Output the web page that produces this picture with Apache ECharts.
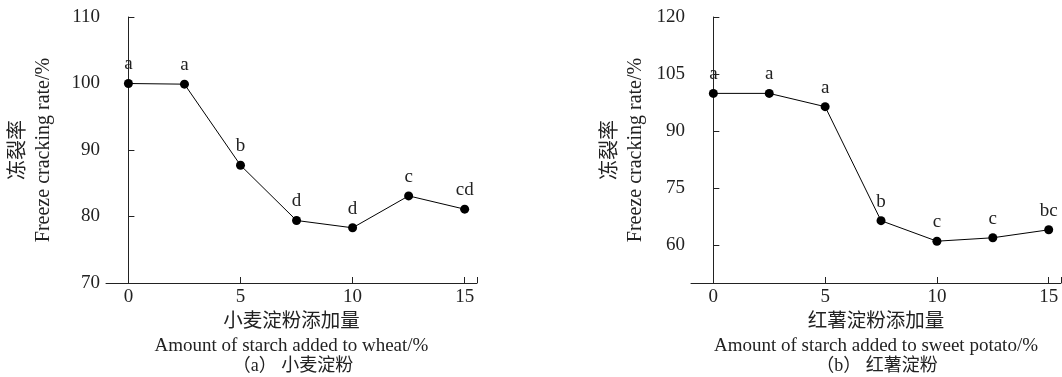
<!DOCTYPE html>
<html>
<head>
<meta charset="utf-8">
<script src="https://cdn.jsdelivr.net/npm/echarts@6/dist/echarts.min.js"></script>
<style>
  html, body { margin: 0; padding: 0; background: #fff; }
  #main { width: 1062px; height: 377px; }
</style>
</head>
<body>
<div id="main"></div>
<script>
// starch addition levels (%)
var xValues = [0, 2.5, 5, 7.5, 10, 12.5, 15];
var xTicks = [0, 5, 10, 15];

// (a) wheat starch
var wheatRate = [100, 99.9, 87.7, 79.4, 78.3, 83.1, 81.1];
var wheatLetters = ['a', 'a', 'b', 'd', 'd', 'c', 'cd'];
var wheatYTicks = [70, 80, 90, 100, 110];

// (b) sweet potato starch
var potatoRate = [99.9, 99.9, 96.4, 66.4, 61.0, 61.9, 64.0];
var potatoLetters = ['a', 'a', 'a', 'b', 'c', 'c', 'bc'];
var potatoYTicks = [60, 75, 90, 105, 120];

var FONT = "'Liberation Serif', 'Noto Sans CJK SC', serif";
var INK = '#222';

function pairs(ys) {
    return xValues.map(function (x, i) { return [x, ys[i]]; });
}

function makeX(idx, cn, en) {
    return {
        type: 'value', gridIndex: idx, min: -1, max: 15.55,
        name: '{cn|' + cn + '}\n{en|' + en + '}',
        nameLocation: 'middle', nameGap: 20,
        nameTextStyle: {
            fontFamily: FONT, color: INK,
            rich: {
                cn: {fontSize: 19.5, lineHeight: 24, fontFamily: FONT, color: INK},
                en: {fontSize: 19, lineHeight: 24, fontFamily: FONT, color: INK}
            }
        },
        axisLine: {onZero: false, lineStyle: {color: INK, width: 1}},
        axisTick: {inside: true, length: 6, customValues: xTicks.concat([15.55]), lineStyle: {color: INK}},
        axisLabel: {customValues: xTicks, fontFamily: FONT, fontSize: 19, color: INK, margin: 5},
        splitLine: {show: false}
    };
}

function makeY(idx, min, max, ticks, gap) {
    return {
        type: 'value', gridIndex: idx, min: min, max: max,
        name: '{cn|冻裂率}\n{en|Freeze cracking rate/%}',
        nameLocation: 'middle', nameRotate: 90, nameGap: gap,
        nameTextStyle: {
            fontFamily: FONT, color: INK,
            rich: {
                cn: {fontSize: 20, lineHeight: 25, fontFamily: FONT, color: INK},
                en: {fontSize: 20, lineHeight: 25, fontFamily: FONT, color: INK}
            }
        },
        axisLine: {show: true, lineStyle: {color: INK, width: 1}},
        axisTick: {inside: true, length: 6, customValues: ticks, lineStyle: {color: INK}},
        axisLabel: {customValues: ticks, fontFamily: FONT, fontSize: 19, color: INK, margin: 6},
        splitLine: {show: false}
    };
}

function makeSeries(idx, ys, letters) {
    return {
        type: 'line', xAxisIndex: idx, yAxisIndex: idx,
        data: pairs(ys),
        symbol: 'circle', symbolSize: 9,
        itemStyle: {color: '#000'},
        lineStyle: {color: '#000', width: 1},
        label: {
            show: true, position: 'top', distance: 5,
            fontFamily: FONT, fontSize: 19, color: INK,
            formatter: function (p) { return letters[p.dataIndex]; }
        },
        animation: false
    };
}

var chart = echarts.init(document.getElementById('main'));
chart.setOption({
    backgroundColor: '#fff',
    animation: false,
    grid: [
        {left: 106, top: 17, width: 371, height: 266},
        {left: 691, top: 17, width: 370, height: 266}
    ],
    xAxis: [
        makeX(0, '小麦淀粉添加量', 'Amount of starch added to wheat/%'),
        makeX(1, '红薯淀粉添加量', 'Amount of starch added to sweet potato/%')
    ],
    yAxis: [
        makeY(0, 70, 110, wheatYTicks, 50),
        makeY(1, 50, 120, potatoYTicks, 43)
    ],
    series: [
        makeSeries(0, wheatRate, wheatLetters),
        makeSeries(1, potatoRate, potatoLetters)
    ],
    graphic: [
        {type: 'text', x: 293, y: 366, style: {text: '（a） 小麦淀粉', font: '18px ' + FONT, fill: INK, textAlign: 'center', textVerticalAlign: 'middle'}},
        {type: 'text', x: 877, y: 366, style: {text: '（b） 红薯淀粉', font: '18px ' + FONT, fill: INK, textAlign: 'center', textVerticalAlign: 'middle'}}
    ]
});
</script>
</body>
</html>
